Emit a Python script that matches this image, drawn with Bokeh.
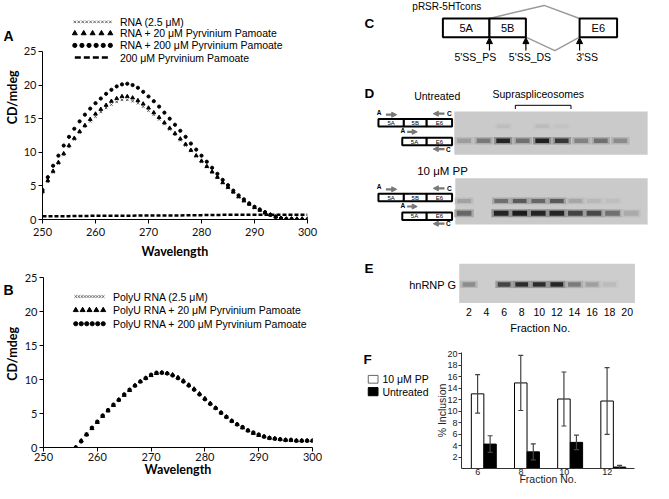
import numpy as np
from bokeh.plotting import figure
from bokeh.models import Range1d, Label, FixedTicker, Arrow, NormalHead
from bokeh.layouts import row, column
from bokeh.embed import file_html
from bokeh.resources import INLINE

# ---------------- Panel A data (CD spectra) ----------------
wl_a = list(range(250, 301))
rna_a = [4.0, 5.6, 7.0, 8.3, 9.6, 10.8, 11.9, 12.9, 13.8, 14.6, 15.3, 16.0, 16.6, 17.1, 17.5, 17.8,
         17.8, 17.6, 17.3, 16.8, 16.2, 15.6, 14.9, 14.2, 13.4, 12.6, 11.8, 11.0, 10.2, 9.4, 8.6,
         7.8, 7.0, 6.2, 5.4, 4.7, 4.0, 3.3, 2.7, 2.2, 1.7, 1.3, 0.9, 0.6, 0.3, 0.1, 0.0, -0.1,
         -0.1, -0.1, -0.1]
rna_pp20_a = [4.2, 5.8, 7.2, 8.5, 9.8, 11.0, 12.1, 13.1, 14.0, 14.9, 15.7, 16.4, 17.0, 17.6, 18.0,
              18.3, 18.3, 18.1, 17.7, 17.2, 16.6, 15.9, 15.2, 14.4, 13.6, 12.8, 12.0, 11.2, 10.3,
              9.5, 8.7, 7.9, 7.1, 6.3, 5.5, 4.8, 4.1, 3.4, 2.8, 2.3, 1.8, 1.4, 1.0, 0.7, 0.4, 0.2,
              0.1, 0.1, 0.1, 0.1, 0.1]
rna_pp200_a = [4.4, 6.3, 8.0, 9.5, 11.0, 12.3, 13.5, 14.6, 15.6, 16.5, 17.3, 18.0, 18.7, 19.3, 19.8,
               20.1, 20.2, 20.0, 19.6, 19.0, 18.3, 17.6, 16.8, 15.9, 15.0, 14.1, 13.2, 12.3, 11.3,
               10.4, 9.5, 8.6, 7.7, 6.8, 5.9, 5.1, 4.3, 3.6, 3.0, 2.4, 1.9, 1.5, 1.1, 0.7, 0.4, 0.2,
               0.1, 0.1, 0.0, 0.0, 0.0]
wl_pp = [250, 255, 260, 265, 270, 275, 280, 285, 290, 295, 300]
pp_only = [0.5, 0.5, 0.55, 0.55, 0.6, 0.6, 0.65, 0.7, 0.72, 0.7, 0.7]
legend_a = ["RNA (2.5 μM)", "RNA + 20 μM Pyrvinium Pamoate",
            "RNA + 200 μM Pyrvinium Pamoate", "200 μM Pyrvinium Pamoate"]

# ---------------- Panel B data (PolyU CD spectra) ----------------
wl_b = list(range(256, 301))
polyu_b = [0.0, 1.0, 2.0, 2.9, 3.8, 4.6, 5.4, 6.2, 7.0, 7.7, 8.4, 9.1, 9.7, 10.2, 10.6, 10.9, 11.0,
           10.9, 10.6, 10.2, 9.8, 9.2, 8.5, 7.8, 7.1, 6.4, 5.7, 5.1, 4.5, 3.9, 3.4, 2.9, 2.5, 2.1,
           1.8, 1.6, 1.4, 1.3, 1.2, 1.1, 1.1, 1.0, 1.0, 1.0, 1.0]
polyu_pp20_b = [0.0, 1.0, 1.9, 2.8, 3.7, 4.6, 5.4, 6.2, 7.0, 7.7, 8.4, 9.1, 9.7, 10.2, 10.6, 10.9,
                11.0, 10.9, 10.7, 10.3, 9.8, 9.2, 8.6, 7.9, 7.2, 6.5, 5.8, 5.1, 4.5, 3.9, 3.4, 2.9,
                2.5, 2.1, 1.8, 1.6, 1.4, 1.3, 1.2, 1.1, 1.1, 1.0, 1.0, 1.0, 1.0]
polyu_pp200_b = [0.0, 0.9, 1.9, 2.9, 3.8, 4.7, 5.5, 6.3, 7.0, 7.8, 8.5, 9.1, 9.7, 10.2, 10.7, 11.0,
                 11.0, 10.9, 10.6, 10.2, 9.7, 9.1, 8.5, 7.8, 7.1, 6.4, 5.8, 5.1, 4.5, 3.9, 3.4,
                 3.0, 2.5, 2.2, 1.9, 1.6, 1.4, 1.3, 1.2, 1.1, 1.1, 1.0, 1.0, 1.0, 1.0]
legend_b = ["PolyU RNA (2.5 μM)", "PolyU RNA + 20 μM Pyrvinium Pamoate",
            "PolyU RNA + 200 μM Pyrvinium Pamoate"]

# ---------------- Panels C/D/E data ----------------
exon_names = ["5A", "5B", "E6"]
site_names = ["5'SS_PS", "5'SS_DS", "3'SS"]
fractions = [2, 4, 6, 8, 10, 12, 14, 16, 18, 20]
d_untreated_upper = [0.0, 0.0, 0.07, 0.0, 0.08, 0.04, 0.0, 0.0, 0.0, 0.0]
d_untreated_lower = [0.25, 0.45, 0.92, 0.5, 0.95, 0.82, 0.4, 0.5, 0.35, 0.0]
d_pp_upper = [0.22, 0.0, 0.5, 0.62, 0.55, 0.62, 0.2, 0.1, 0.06, 0.0]
d_pp_lower = [0.55, 0.0, 0.92, 0.97, 0.92, 0.92, 0.75, 0.72, 0.5, 0.18]
e_hnrnpg = [0.35, 0.0, 0.75, 0.88, 0.88, 0.92, 0.45, 0.25, 0.1, 0.0]

# ---------------- Panel F data ----------------
f_fractions = ["6", "8", "10", "12"]
f_pp = [13.0, 14.9, 12.1, 11.75]
f_pp_err = [3.35, 4.8, 4.7, 5.8]
f_untreated = [4.25, 2.9, 4.55, 0.25]
f_untreated_err = [1.45, 1.4, 1.25, 0.3]

FONT_C = "Lato"
FONT_A = "Liberation Sans"
COMMON = dict(output_backend="svg", toolbar_location=None)


def style_axes(p, tick_size="11px"):
    p.grid.visible = False
    p.outline_line_color = None
    for ax in p.axis:
        ax.minor_tick_line_color = None
        ax.major_tick_in = 0
        ax.major_tick_out = 4
        ax.axis_line_color = "black"
        ax.major_tick_line_color = "black"
        ax.major_label_text_font = FONT_C
        ax.major_label_text_font_size = tick_size
        ax.major_label_text_color = "#111111"
        ax.major_label_standoff = 2
        ax.axis_label_text_font = FONT_C
        ax.axis_label_text_font_style = "bold"
        ax.axis_label_text_font_size = "12.5px"
        ax.axis_label_text_color = "black"
        ax.axis_label_standoff = 4


def canvas(w, h, xr, yr):
    p = figure(width=w, height=h, x_range=Range1d(*xr), y_range=Range1d(*yr),
               x_axis_location=None, y_axis_location=None, min_border=0, **COMMON)
    p.grid.visible = False
    p.outline_line_color = None
    return p


def label(p, x, y, s, size, bold=False, align="left", color="black", font=FONT_A, angle=0.0):
    p.add_layout(Label(x=x, y=y, text=s, text_font=font, text_font_size=f"{size}px",
                       text_font_style="bold" if bold else "normal", text_align=align,
                       text_baseline="middle", text_color=color, angle=angle))


def legend_rows(p, ys, x0, x1, xt, kinds, texts):
    for y, kind, t in zip(ys, kinds, texts):
        if kind == "x":
            xs = np.linspace(x0, x1, 10)
            p.scatter(xs, [y] * len(xs), marker="x", size=3.5, line_color="#666666", line_width=1)
        elif kind == "triangle":
            xs = np.linspace(x0, x1, 5)
            p.scatter(xs, [y] * len(xs), marker="triangle", size=5, fill_color="black", line_color="black")
        elif kind == "circle":
            xs = np.linspace(x0, x1, 6)
            p.scatter(xs, [y] * len(xs), marker="circle", size=4.2, fill_color="black", line_color="black")
        else:
            p.line([x0, x1], [y, y], line_dash="6 3", line_width=2.5, line_color="black")
        label(p, xt, y, t, 10.5)


# ================= Panel A =================
stripA = canvas(20, 261, (0, 20.5), (265, 0))
label(stripA, 3, 28, "A", 14, bold=True)
label(stripA, 12, 107, "CD/mdeg", 12.5, bold=True, align="center", font=FONT_C, angle=np.pi / 2)

pa = figure(width=302, height=261, x_range=Range1d(250, 300), y_range=Range1d(0, 30.5),
            min_border_left=19, min_border_right=15, min_border_top=14, min_border_bottom=38, **COMMON)
style_axes(pa)
pa.xaxis.ticker = FixedTicker(ticks=list(range(250, 301, 10)))
pa.yaxis.ticker = FixedTicker(ticks=list(range(0, 26, 5)))
pa.yaxis.bounds = (0, 25)
pa.xaxis.axis_label = "Wavelength"
pa.xaxis.major_label_standoff = 4
pa.xaxis.axis_label_standoff = 5
pa.line(wl_pp, pp_only, line_dash="4 2", line_width=2.5, line_color="black")
pa.scatter(wl_a, rna_a, marker="x", size=3.5, line_color="#555555", line_width=1)
pa.scatter(wl_a, rna_pp20_a, marker="triangle", size=3.8, fill_color="black", line_color="black")
pa.scatter(wl_a, rna_pp200_a, marker="circle", size=3.2, fill_color="black", line_color="black")
legend_rows(pa, [29.4, 27.7, 25.9, 24.1], 256.1, 262.8, 264.6,
            ["x", "triangle", "circle", "dash"], legend_a)

# ================= Panel B =================
stripB = canvas(20, 230, (0, 20.5), (499, 265))
label(stripB, 3, 282, "B", 14, bold=True)
label(stripB, 12, 370, "CD/mdeg", 12.5, bold=True, align="center", font=FONT_C, angle=np.pi / 2)

pb = figure(width=302, height=230, x_range=Range1d(250, 300), y_range=Range1d(0, 25),
            min_border_left=23, min_border_right=10, min_border_top=16, min_border_bottom=44, **COMMON)
style_axes(pb)
pb.xaxis.ticker = FixedTicker(ticks=list(range(250, 301, 10)))
pb.yaxis.ticker = FixedTicker(ticks=list(range(0, 26, 5)))
pb.xaxis.axis_label = "Wavelength"
pb.xaxis.major_label_standoff = 1
pb.xaxis.axis_label_standoff = -2
pb.scatter(wl_b, polyu_b, marker="x", size=3.8, line_color="#333333", line_width=1)
pb.scatter(wl_b, polyu_pp20_b, marker="triangle", size=4, fill_color="black", line_color="black")
pb.scatter(wl_b, polyu_pp200_b, marker="circle", size=3.5, fill_color="black", line_color="black")
legend_rows(pb, [22.2, 20.2, 18.2], 256.0, 261.1, 262.9, ["x", "triangle", "circle"], legend_b)

# ================= Panels C / D / E (schematic canvas, reference pixel coords) =================
pc = canvas(331, 336, (330, 669), (342, 0))

# --- C ---
label(pc, 422, 6.5, "pRSR-5HTcons", 10)
label(pc, 373, 23, "C", 13.5, bold=True)
pc.line([501, 557, 593.3], [18.3, 5, 18.3], line_color="#9a9a9a", line_width=1.5)
pc.line([538.3, 568, 593.3], [37.3, 51, 37.3], line_color="#9a9a9a", line_width=1.5)
ex_l = [453.3, 501, 593.3]
ex_r = [501, 538.3, 631.7]
pc.quad(left=ex_l, right=ex_r, top=[18.3] * 3, bottom=[37.3] * 3, fill_color="white",
        line_color="black", line_width=2)
for l, r, n in zip(ex_l, ex_r, exon_names):
    label(pc, (l + r) / 2, 28, n, 11, align="center")
site_x = [501, 538.3, 593.3]
site_lab_x = [486.5, 542.5, 601]
for sx, lx, n in zip(site_x, site_lab_x, site_names):
    pc.add_layout(Arrow(x_start=sx, y_start=51, x_end=sx, y_end=37.8, line_width=1.2,
                        line_color="black",
                        end=NormalHead(size=6, fill_color="black", line_color="black")))
    label(pc, lx, 57.5, n, 10.5, align="center")

# --- D ---
label(pc, 373, 95, "D", 13.5, bold=True)
label(pc, 447.5, 97, "Untreated", 10.5, align="center")
label(pc, 551, 95, "Supraspliceosomes", 10.5, align="center")
pc.line([527.5, 527.5, 584.5, 584.5], [110.5, 106.7, 106.7, 110.5], line_color="black", line_width=1)
label(pc, 427, 173.5, "10 μM PP", 11.5)


def shade(bg, v):
    c = int(round(bg + (22 - bg) * v))
    return "#%02x%02x%02x" % (c, c, c)


def draw_bands(p, xs, y, intens, bg, w, h):
    keep = [(x, v) for x, v in zip(xs, intens) if v > 0]
    bx = [k[0] for k in keep]
    bv = [k[1] for k in keep]
    p.rect(x=bx, y=[y] * len(bx), width=w + 5, height=h + 3,
           fill_color=[shade(bg, v * 0.35) for v in bv], line_color=None)
    p.rect(x=bx, y=[y] * len(bx), width=w, height=h,
           fill_color=[shade(bg, v) for v in bv], line_color=None)


GEL_BG = 0xca
gel_col = "#%02x%02x%02x" % (GEL_BG, GEL_BG, GEL_BG)
idx = np.arange(len(fractions))
# gel 1 (untreated)
pc.quad(left=[465], right=[663], top=[113], bottom=[157], fill_color=gel_col, line_color=None)
draw_bands(pc, list(475 + 20 * idx), 128, d_untreated_upper, GEL_BG, 13, 3.5)
draw_bands(pc, list(475 + 20 * idx), 142.7, d_untreated_lower, GEL_BG, 14, 4.5)
# gel 2 (10 uM PP)
pc.quad(left=[466], right=[663], top=[181], bottom=[228], fill_color=gel_col, line_color=None)
draw_bands(pc, list(475 + 19 * idx), 204, d_pp_upper, GEL_BG, 14, 4)
draw_bands(pc, list(475 + 19 * idx), 216.5, d_pp_lower, GEL_BG, 15, 5)


def construct_set(p, y0):
    xs3 = [387.3, 413.3, 436.7, 462.7]
    p.quad(left=xs3[:-1], right=xs3[1:], top=[y0] * 3, bottom=[y0 + 7.6] * 3,
           fill_color="white", line_color="black", line_width=2)
    for l, r, n in zip(xs3[:-1], xs3[1:], exon_names):
        label(p, (l + r) / 2, y0 + 3.9, n, 6, align="center")
    xs2 = [411.7, 436.7, 462.7]
    y1 = y0 + 19
    p.quad(left=xs2[:-1], right=xs2[1:], top=[y1] * 2, bottom=[y1 + 7.6] * 2,
           fill_color="white", line_color="black", line_width=2)
    for l, r, n in zip(xs2[:-1], xs2[1:], [exon_names[0], exon_names[2]]):
        label(p, (l + r) / 2, y1 + 3.9, n, 6, align="center")
    head = dict(size=5, fill_color="#777777", line_color="#777777")
    arrows = [(395, 406, y0 - 4.5), (455, 443.5, y0 - 5.5), (416.7, 427, y1 - 6), (455, 443.5, y0 + 30.5)]
    for xa, xb, ya in arrows:
        p.add_layout(Arrow(x_start=xa, y_start=ya, x_end=xb, y_end=ya, line_width=2.2,
                           line_color="#777777", end=NormalHead(**head)))
    label(p, 385.5, y0 - 7.2, "A", 6.5, bold=True)
    label(p, 457.5, y0 - 5.5, "C", 6.5, bold=True)
    label(p, 410, y1 - 7.2, "A", 6.5, bold=True)
    label(p, 456.5, y0 + 30.5, "C", 6.5, bold=True)


construct_set(pc, 120.7)
construct_set(pc, 196.7)

# --- E ---
label(pc, 373, 273, "E", 13.5, bold=True)
E_BG = 0xcd
pc.quad(left=[470], right=[650], top=[268], bottom=[308],
        fill_color="#%02x%02x%02x" % (E_BG, E_BG, E_BG), line_color=None)
e_x = list(480 + 18 * idx)
draw_bands(pc, e_x, 289, e_hnrnpg, E_BG, 13, 4.5)
label(pc, 467, 289.5, "hnRNP G", 11, align="right")
for x, f in zip(e_x, fractions):
    label(pc, x, 317.5, str(f), 10.5, align="center")
label(pc, 553, 333.5, "Fraction No.", 11, align="center")

# ================= Panel F legend canvas =================
pfl = canvas(111, 155, (330, 444), (499, 342))
label(pfl, 372, 351, "F", 13.5, bold=True)
pfl.quad(left=[377], right=[387], top=[373], bottom=[383.5], fill_color="white",
         line_color="#666666", line_width=1)
pfl.quad(left=[377], right=[387], top=[389.5], bottom=[400.5], fill_color="black",
         line_color="black", line_width=1)
label(pfl, 391.5, 378.5, "10 μM PP", 10.5)
label(pfl, 391.5, 395.5, "Untreated", 10.5)

# ================= Panel F bar chart =================
pf = figure(width=220, height=155, x_range=Range1d(-0.378, 3.63), y_range=Range1d(0, 20.2),
            min_border_left=27, min_border_right=19, min_border_top=16, min_border_bottom=23, **COMMON)
pf.grid.visible = False
pf.outline_line_color = None
xi = np.arange(len(f_fractions))
x_open = xi - 0.005
x_black = xi + 0.285
pf.vbar(x=x_open, top=f_pp, width=0.29, fill_color="white", line_color="black", line_width=1)
pf.vbar(x=x_black, top=f_untreated, width=0.285, fill_color="black", line_color="black", line_width=1)
for xs, m, e in ((x_open, f_pp, f_pp_err), (x_black, f_untreated, f_untreated_err)):
    lo = [a - b for a, b in zip(m, e)]
    hi = [a + b for a, b in zip(m, e)]
    pf.segment(x0=xs, y0=lo, x1=xs, y1=hi, line_color="#444444", line_width=1.2)
    pf.scatter(xs, hi, marker="dash", size=5, line_color="#444444", line_width=1.2)
    pf.scatter(xs, lo, marker="dash", size=5, line_color="#444444", line_width=1.2)
pf.xaxis.ticker = FixedTicker(ticks=list(range(len(f_fractions))))
pf.xaxis.major_label_overrides = {i: f for i, f in enumerate(f_fractions)}
pf.yaxis.ticker = FixedTicker(ticks=list(range(2, 21, 2)))
for ax in pf.axis:
    ax.minor_tick_line_color = None
    ax.major_tick_in = 0
    ax.major_tick_out = 3
    ax.axis_line_color = "#333333"
    ax.major_tick_line_color = "#333333"
    ax.major_label_text_font = FONT_A
    ax.major_label_text_font_size = "9px"
    ax.major_label_text_color = "#222222"
    ax.major_label_standoff = 1
    ax.axis_label_text_font = FONT_A
    ax.axis_label_text_font_style = "normal"
    ax.axis_label_text_font_size = "10.5px"
    ax.axis_label_text_color = "#222222"
    ax.axis_label_standoff = -4
pf.xaxis.major_tick_out = 0
pf.xaxis.major_tick_line_color = None
pf.xaxis.major_label_standoff = 0
pf.xaxis.axis_label_standoff = -5
pf.xaxis.axis_label = "Fraction No."
pf.yaxis.axis_label = "% Inclusion"

layout = row(column(row(stripA, pa), row(stripB, pb)), column(pc, row(pfl, pf)))
open("out.html", "w").write(file_html(layout, INLINE))
